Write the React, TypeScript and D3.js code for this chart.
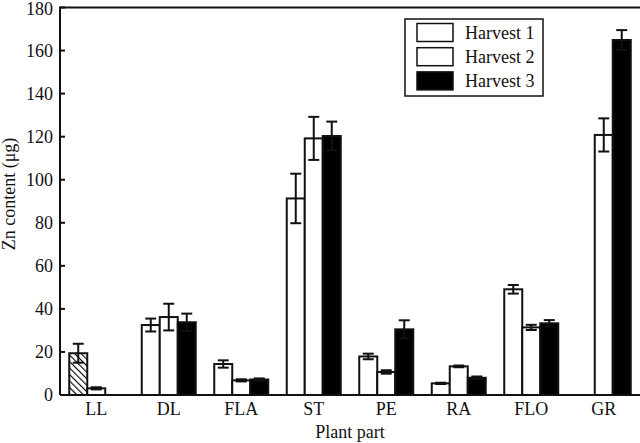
import React from "react";
import * as d3 from "d3";

const categories = ["LL", "DL", "FLA", "ST", "PE", "RA", "FLO", "GR"];
const seriesNames = ["Harvest 1", "Harvest 2", "Harvest 3"];
const harvest1 = [19.4, 32.5, 14.4, 91.3, 17.9, 5.4, 49.1, null];
const harvest1Err = [4.4, 3.0, 1.7, 11.5, 1.3, 0.3, 2.0, 0];
const harvest2 = [3.1, 36.2, 6.8, 119.2, 10.7, 13.3, 31.4, 120.8];
const harvest2Err = [0.5, 6.2, 0.5, 10.0, 0.8, 0.4, 1.2, 7.7];
const harvest3 = [null, 33.8, 7.2, 120.3, 30.5, 8.0, 33.3, 164.9];
const harvest3Err = [0, 4.0, 0.5, 6.7, 4.2, 0.6, 1.5, 4.6];
const yTicks = [0, 20, 40, 60, 80, 100, 120, 140, 160, 180];

const W = 640, H = 443;
const m = { left: 60, right: 640, top: 7.5, bottom: 395 };
const FONT = "'Liberation Serif', 'DejaVu Serif', serif";
const FS = 18;

export default function App() {
  const x = d3.scaleBand<string>().domain(categories).range([m.left, m.right]).paddingInner(0).paddingOuter(0);
  const y = d3.scaleLinear().domain([0, 180]).range([m.bottom, m.top]);
  const groupW = 54;
  const xs = d3.scaleBand<number>().domain([0, 1, 2]).range([0, groupW]);
  const series = [
    { vals: harvest1, errs: harvest1Err },
    { vals: harvest2, errs: harvest2Err },
    { vals: harvest3, errs: harvest3Err },
  ];
  const bars: any[] = [];
  categories.forEach((c, ci) => {
    series.forEach((s, si) => {
      const v = s.vals[ci];
      if (v == null) return;
      const x0 = (x(c) as number) + (x.bandwidth() - groupW) / 2 + (xs(si) as number);
      let fill = si === 2 ? "#000" : "#fff";
      if (ci === 0 && si === 0) fill = "url(#hatch)";
      bars.push({ key: c + si, x0, w: xs.bandwidth(), v, e: s.errs[ci], fill });
    });
  });
  return (
    <svg width={W} height={H} style={{ position: "absolute", left: 0, top: 0 }} fontFamily={FONT}>
      <defs>
        <pattern id="hatch" patternUnits="userSpaceOnUse" width={4.6} height={4.6} patternTransform="rotate(-45)">
          <rect width={4.6} height={4.6} fill="#fff" />
          <line x1={0} y1={0} x2={0} y2={4.6} stroke="#000" strokeWidth={2.2} />
        </pattern>
      </defs>
      <rect width={W} height={H} fill="#fff" />
      {bars.map((b) => (
        <rect key={b.key} x={b.x0} y={y(b.v)} width={b.w} height={m.bottom - y(b.v)} fill={b.fill} stroke="#111" strokeWidth={2} />
      ))}
      {bars.filter((b) => b.e > 0).map((b) => {
        const cx = b.x0 + b.w / 2;
        const t = y(b.v + b.e), bt = y(b.v - b.e);
        return (
          <g key={"e" + b.key} stroke="#111" strokeWidth={2}>
            <line x1={cx} x2={cx} y1={t} y2={bt} />
            <line x1={cx - 5.5} x2={cx + 5.5} y1={t} y2={t} />
            <line x1={cx - 5.5} x2={cx + 5.5} y1={bt} y2={bt} />
          </g>
        );
      })}
      <path d={`M${m.left},${m.bottom}V${m.top}H${m.right + 2}V${m.bottom}H${m.left}`} fill="none" stroke="#111" strokeWidth={2} />
      {yTicks.map((t) => (
        <g key={t}>
          <line x1={m.left} x2={m.left + 5} y1={y(t)} y2={y(t)} stroke="#111" strokeWidth={2} />
          <text x={53} y={Math.max(y(t), 9)} dy="0.35em" textAnchor="end" fontSize={FS} fill="#111">{t}</text>
        </g>
      ))}
      {categories.map((c) => (
        <text key={c} x={(x(c) as number) + x.bandwidth() / 2} y={415} textAnchor="middle" fontSize={FS} fill="#111">{c}</text>
      ))}
      <text x={350} y={438} textAnchor="middle" fontSize={FS} fill="#111">Plant part</text>
      <text transform="translate(15,194) rotate(-90)" textAnchor="middle" fontSize={FS} fill="#111">Zn content (μg)</text>
      <g>
        <rect x={405} y={19} width={138} height={77} fill="#fff" stroke="#111" strokeWidth={1.5} />
        {seriesNames.map((s, i) => (
          <g key={s}>
            <rect x={417} y={23.5 + i * 24.2} width={36} height={18} fill={i === 2 ? "#000" : "#fff"} stroke="#111" strokeWidth={1.5} />
            <text x={465} y={32.5 + i * 24.2} dy="0.35em" fontSize={FS} fill="#111">{s}</text>
          </g>
        ))}
      </g>
    </svg>
  );
}
